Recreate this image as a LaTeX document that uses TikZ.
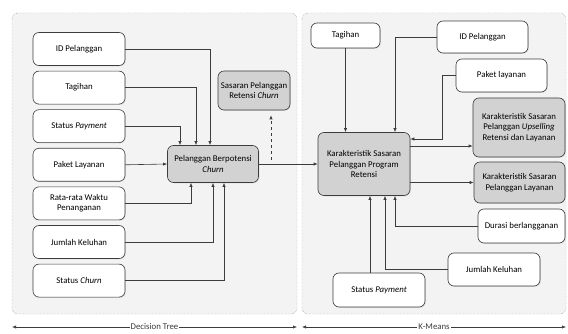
\documentclass[tikz,border=0pt]{standalone}
\usepackage{fontspec}
\setmainfont{Carlito}
\usetikzlibrary{arrows.meta,positioning,shadows}
\definecolor{PanelGray}{RGB}{243,243,243}
\definecolor{BoxGray}{RGB}{210,210,210}
\definecolor{LineGray}{RGB}{60,60,60}
\definecolor{EdgeGray}{RGB}{130,130,130}

\begin{document}
\begin{tikzpicture}[x=1pt,y=-1pt,>={Latex[length=4pt,width=3.2pt]},
    font=\fontsize{8.8}{10.5}\selectfont,
    inbox/.style={draw=LineGray,fill=white,rounded corners=6pt,align=center,inner sep=1pt,line width=0.6pt,
      drop shadow={opacity=0.2,shadow xshift=0.8pt,shadow yshift=-0.8pt}},
    keybox/.style={inbox,fill=BoxGray},
    link/.style={->,LineGray,line width=0.6pt}]
  \useasboundingbox (0,0) rectangle (568,334);
  % panels
  \draw[EdgeGray,densely dotted,fill=PanelGray,rounded corners=6pt] (12,13) rectangle (297,314);
  \draw[EdgeGray,densely dotted,fill=PanelGray,rounded corners=6pt] (302,13) rectangle (566,314);

  % decision tree side
  \node[inbox,minimum width=92,minimum height=33] (idL) at (79,49) {ID Pelanggan};
  \node[inbox,minimum width=92,minimum height=33,below=5pt of idL] (tagL) {Tagihan};
  \node[inbox,minimum width=92,minimum height=33,below=5pt of tagL] (payL) {Status \emph{Payment}};
  \node[inbox,minimum width=92,minimum height=33,below=5pt of payL] (paketL) {Paket Layanan};
  \node[inbox,minimum width=92,minimum height=33,below=5pt of paketL] (rataL) {Rata-rata Waktu\\Penanganan};
  \node[inbox,minimum width=92,minimum height=33,below=5pt of rataL] (jumL) {Jumlah Keluhan};
  \node[inbox,minimum width=92,minimum height=33,below=5pt of jumL] (churnL) {Status \emph{Churn}};
  \node[keybox,minimum width=91,minimum height=37] (pbc) at (213,164) {Pelanggan Berpotensi\\\emph{Churn}};
  \node[keybox,minimum width=72,minimum height=39] (sasaran) at (254,90.5) {Sasaran Pelanggan\\Retensi \emph{Churn}};

  \draw[link] (idL.east) -| (210,0 |- pbc.north);
  \draw[link] (tagL.east) -| (196,0 |- pbc.north);
  \draw[link] (payL.east) -| (180,0 |- pbc.north);
  \draw[link] (paketL.east) -- (pbc.west);
  \draw[link] (rataL.east) -| (191,0 |- pbc.south);
  \draw[link] (jumL.east) -| (213,0 |- pbc.south);
  \draw[link] (churnL.east) -| (224,0 |- pbc.south);
  \coordinate (dsh) at (271,0 |- pbc.east);
  \draw[link,dashed,shorten <=4pt,shorten >=5pt] (dsh) -- (dsh |- sasaran.south);

  % k-means side
  \node[keybox,minimum width=92,minimum height=63] (kspr) at (364,164) {Karakteristik Sasaran\\Pelanggan Program\\Retensi};
  \node[inbox,minimum width=69,minimum height=25] (tagR) at (345.5,35.5) {Tagihan};
  \node[inbox,minimum width=91,minimum height=32] (idR) at (482.5,37) {ID Pelanggan};
  \node[inbox,minimum width=91,minimum height=33] (paketR) at (501.5,75.5) {Paket layanan};
  \node[keybox,minimum width=92,minimum height=59] (upsR) at (519,127.5) {Karakteristik Sasaran\\Pelanggan \emph{Upselling}\\Retensi dan Layanan};
  \node[keybox,minimum width=91,minimum height=41] (layR) at (519.5,182.5) {Karakteristik Sasaran\\Pelanggan Layanan};
  \node[inbox,minimum width=87,minimum height=34] (durR) at (521.5,226) {Durasi berlangganan};
  \node[inbox,minimum width=92,minimum height=33] (jumR) at (494,269.5) {Jumlah Keluhan};
  \node[inbox,minimum width=92,minimum height=34] (payR) at (379,290) {Status \emph{Payment}};

  \draw[link] (pbc.east) -- (kspr.west);
  \draw[link] (tagR.south) -- (tagR.south |- kspr.north);
  \draw[link] (idR.west) -| (395,0 |- kspr.north);
  \draw[link] (paketR.west) -| (442,139) -- (kspr.east |- 442,139);
  \draw[link] (kspr.east |- 0,146) -- (upsR.west |- 0,146);
  \draw[link] (kspr.east |- layR) -- (layR.west);
  \draw[link] (durR.west) -| (395,0 |- kspr.south);
  \draw[link] (jumR.west) -| (385,0 |- kspr.south);
  \draw[link] (370,0 |- payR.north) -- (370,0 |- kspr.south);

  % method ranges
  \coordinate (dtA) at (12,327);
  \coordinate (dtB) at (297,327);
  \coordinate (kmA) at (302,327);
  \coordinate (kmB) at (566,327);
  \draw[<->,LineGray,line width=0.6pt] (dtA) -- (dtB) node[midway,fill=white,inner sep=1pt]{Decision Tree};
  \draw[<->,LineGray,line width=0.6pt] (kmA) -- (kmB) node[midway,fill=white,inner sep=1pt]{K-Means};
\end{tikzpicture}
\end{document}
